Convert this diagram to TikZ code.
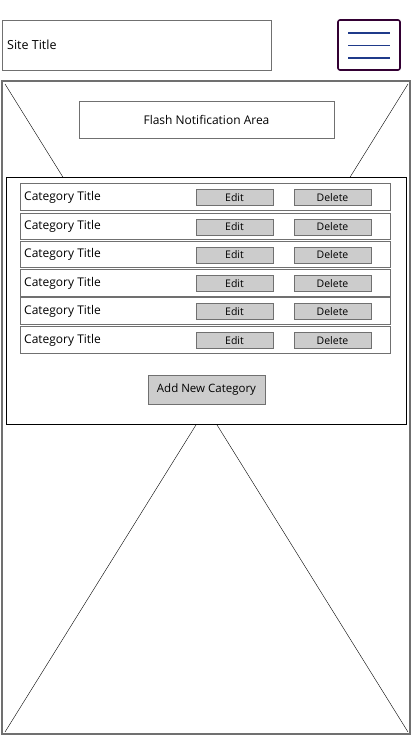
\documentclass[tikz,border=0pt]{standalone}
\usepackage{fontspec}
\setmainfont{Open Sans}
\usetikzlibrary{positioning}
\definecolor{wire}{HTML}{707070}
\definecolor{btn}{HTML}{CCCCCC}
\definecolor{menuedge}{HTML}{330033}
\definecolor{menuline}{HTML}{1F3A8A}

\begin{document}
\begin{tikzpicture}[x=1pt, y=-1pt,
    box/.style = {draw=wire, line width=1pt, rectangle, inner sep=0pt},
    button/.style = {box, fill=btn, minimum width=77pt, minimum height=16pt, font=\fontsize{10.5}{12}\selectfont},
    label/.style = {font=\fontsize{12}{14}\selectfont, inner sep=0pt}]
                \useasboundingbox (0,0) rectangle (414,736);
                \node (site) [box, minimum width=269pt, minimum height=50pt] at (136.5,45) {};
                \node [label, font=\fontsize{12.5}{14}\selectfont, anchor=west] at (7,45) {Site Title};
                \node (menu) [draw=menuedge, line width=1.6pt, rounded corners=2pt, minimum width=62pt, minimum height=50pt] at (369,45) {};
                \foreach \y in {33,45.5,58}
                    \draw [menuline, line width=1.6pt] (348,\y) -- (390,\y);

                \node (frame) [box, line width=1.3pt, minimum width=408pt, minimum height=653pt] at (206,407.5) {};
                \coordinate (tl) at (5,84);
                \coordinate (tr) at (408,84);
                \coordinate (bl) at (5,732);
                \coordinate (br) at (408,732);
                \draw (tl) -- (br);
                \draw (tr) -- (bl);

                \node (flash) [box, fill=white, minimum width=255pt, minimum height=37pt, font=\fontsize{12}{14}\selectfont] at (206.5,119.5) {Flash Notification Area};

                \node (panel) [draw, line width=1pt, fill=white, minimum width=400pt, minimum height=247pt] at (206,300.5) {};
                \foreach \i/\y/\h in {1/196.5/27, 2/226/26, 3/254/26, 4/282.5/27, 5/310.5/27, 6/339.5/27} {
                    \node (row\i) [box, fill=white, minimum width=370pt, minimum height=\h pt] at (205,\y) {};
                    \node [label, anchor=west] at (24,\y+0.5) {Category Title};
                    \node (edit\i) [button] at (234.5,\y+1) {Edit};
                    \node (del\i) [button] at (332.5,\y+1) {Delete};
                }

                \node (add) [box, fill=btn, minimum width=117pt, minimum height=29pt, font=\fontsize{11.5}{13}\selectfont] at (206.5,389.5) {Add New Category};
            \end{tikzpicture}
\end{document}
